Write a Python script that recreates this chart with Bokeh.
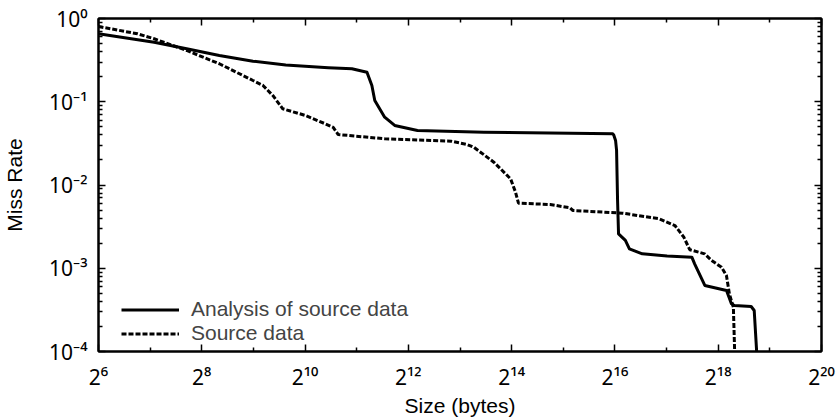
from bokeh.plotting import figure
from bokeh.models import (LogAxis, FixedTicker, CustomJSTickFormatter,
                          Legend, LegendItem, Range1d)
from bokeh.embed import file_html
from bokeh.resources import INLINE

# ---- data ----
analysis_size = [64, 135, 209, 324, 509, 790, 1400, 1920, 2350, 2510, 2610, 2980, 3410,
                 4630, 11300, 63600, 64500, 66100, 67000, 67900, 68800, 75400, 79600,
                 94600, 132000, 184000, 191000, 219000, 293000, 313000, 326000, 408000,
                 425000, 448000]
analysis_miss = [0.655, 0.519, 0.433, 0.360, 0.307, 0.276, 0.256, 0.249, 0.226, 0.157,
                 0.1035, 0.0652, 0.0519, 0.0452, 0.0431, 0.0412, 0.0399, 0.0343, 0.0260,
                 0.00651, 0.00259, 0.00216, 0.00171, 0.00149, 0.00140, 0.00136, 0.00113,
                 0.000621, 0.000541, 0.000374, 0.000357, 0.000347, 0.000311, 0.00005]

source_size = [64, 108, 135, 209, 324, 509, 582, 664, 759, 1030, 1344, 1494, 1597, 2984,
               7270, 8990, 9870, 12900, 16150, 17260, 17960, 27500, 35800, 37300, 72500,
               118500, 146600, 165200, 178900, 218500, 239800, 274100, 292700, 304600,
               321300, 330000]
source_miss = [0.801, 0.655, 0.571, 0.413, 0.286, 0.180, 0.157, 0.119, 0.0823, 0.0684,
               0.0543, 0.0491, 0.0404, 0.0359, 0.0336, 0.0307, 0.0284, 0.0188, 0.01187,
               0.0082, 0.00605, 0.00583, 0.00532, 0.00494, 0.00459, 0.00393, 0.00326,
               0.00236, 0.00167, 0.00149, 0.00124, 0.00103, 0.000818, 0.000493,
               0.000340, 0.00005]

x_tick_exponents = [6, 8, 10, 12, 14, 16, 18, 20]
x_tick_labels = ["2\u2076", "2\u2078", "2\u00b9\u2070", "2\u00b9\u00b2", "2\u00b9\u2074",
                 "2\u00b9\u2076", "2\u00b9\u2078", "2\u00b2\u2070"]
x_minor_exponents = [7, 9, 11, 13, 15, 17, 19]
y_tick_exponents = [0, -1, -2, -3, -4]
y_tick_labels = ["10\u2070", "10\u207b\u00b9", "10\u207b\u00b2", "10\u207b\u00b3",
                 "10\u207b\u2074"]
series_labels = ["Analysis of source data", "Source data"]
x_label = "Size (bytes)"
y_label = "Miss Rate"

FONT = "Liberation Sans"
TICK_FONT = "Noto Sans"
FS = "21px"
TICK_FS = "21px"

x_major = [2.0 ** e for e in x_tick_exponents]
x_minor = [2.0 ** e for e in x_minor_exponents]
y_major = [10.0 ** e for e in y_tick_exponents]
y_minor = [k * 10.0 ** d for d in range(-4, 0) for k in range(2, 10)]

p = figure(width=840, height=420, x_axis_type="log", y_axis_type="log",
           x_range=Range1d(x_major[0], x_major[-1]), y_range=Range1d(y_major[-1], y_major[0]),
           output_backend="svg", toolbar_location=None,
           min_border_left=91, min_border_right=19, min_border_top=18, min_border_bottom=69)
p.xgrid.visible = False
p.ygrid.visible = False
p.outline_line_color = "black"
p.outline_line_width = 2
p.outline_line_alpha = 1.0


def style_axis(ax, major_in, minor_in):
    ax.axis_line_color = "black"
    ax.axis_line_width = 2
    ax.major_tick_in = major_in
    ax.major_tick_out = 0
    ax.minor_tick_in = minor_in
    ax.minor_tick_out = 0
    ax.major_tick_line_width = 1.5
    ax.minor_tick_line_width = 1.5
    ax.major_tick_line_color = "black"
    ax.minor_tick_line_color = "black"
    ax.major_label_text_font = TICK_FONT
    ax.major_label_text_font_size = TICK_FS
    ax.major_label_text_color = "black"
    ax.axis_label_text_font = FONT
    ax.axis_label_text_font_size = FS
    ax.axis_label_text_font_style = "normal"
    ax.axis_label_text_color = "black"


bx = p.below[0]
bx.ticker = FixedTicker(ticks=x_major, minor_ticks=x_minor)
bx.major_label_overrides = dict(zip(x_major, x_tick_labels))
style_axis(bx, 7, 4)
bx.major_label_standoff = 11
bx.axis_label = x_label
bx.axis_label_standoff = 0

ly = p.left[0]
ly.ticker = FixedTicker(ticks=y_major, minor_ticks=y_minor)
ly.major_label_overrides = dict(zip(y_major, y_tick_labels))
style_axis(ly, 7, 4)
ly.major_label_standoff = 11
ly.axis_label = y_label
ly.axis_label_standoff = 20

blank = CustomJSTickFormatter(code="return ''")
tx = LogAxis(ticker=FixedTicker(ticks=x_major, minor_ticks=x_minor), formatter=blank)
style_axis(tx, 7, 4)
tx.major_label_standoff = 0
p.add_layout(tx, "above")
ry = LogAxis(ticker=FixedTicker(ticks=y_major, minor_ticks=y_minor), formatter=blank)
style_axis(ry, 7, 4)
ry.major_label_standoff = 0
p.add_layout(ry, "right")

r1 = p.line(analysis_size, analysis_miss, line_color="black", line_width=3,
            line_join="round")
r2 = p.line(source_size, source_miss, line_color="black", line_width=3,
            line_dash="5 2")

legend = Legend(items=[LegendItem(label=series_labels[0], renderers=[r1]),
                       LegendItem(label=series_labels[1], renderers=[r2])],
                location=(23, 6), padding=0, margin=0, spacing=0,
                glyph_width=58, glyph_height=23, label_height=23, label_standoff=12,
                label_text_font=FONT, label_text_font_size=FS,
                background_fill_alpha=0, border_line_alpha=0)
p.add_layout(legend)

open("out.html", "w").write(file_html(p, INLINE))
